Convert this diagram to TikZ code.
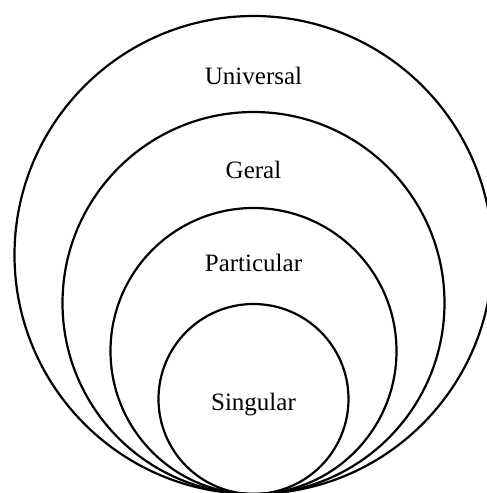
\documentclass[tikz,border=0pt]{standalone}
\usepackage{fontspec}
\setmainfont{Liberation Serif}
\usepackage{tikz}

\begin{document}
\begin{tikzpicture}[x=1pt, y=-1pt]
    \tikzset{
      ring/.style={
        circle,
        draw=black,
        line width=2.2pt,
        inner sep=0pt,
        outer sep=0pt,
        anchor=south
      },
      ringlabel/.style={
        anchor=base,
        font=\fontsize{25}{30}\selectfont
      }
    }
    \useasboundingbox (0,0) rectangle (487,493);
    \clip (0,0) rectangle (487,493);
    \coordinate (touch) at (253.5,494);
    % nested circles, all touching at the bottom
    \node[ring, minimum size=478pt] (universal) at (touch) {};
    \node[ring, minimum size=382pt] (geral) at (touch) {};
    \node[ring, minimum size=286pt] (particular) at (touch) {};
    \node[ring, minimum size=190pt] (singular) at (touch) {};
    % labels
    \node[ringlabel] (universaltext) at (253.5,84) {Universal};
    \node[ringlabel] (geraltext) at (253.5,178) {Geral};
    \node[ringlabel] (particulartext) at (253.5,271) {Particular};
    \node[ringlabel] (singulartext) at (253.5,410) {Singular};
  \end{tikzpicture}
\end{document}
